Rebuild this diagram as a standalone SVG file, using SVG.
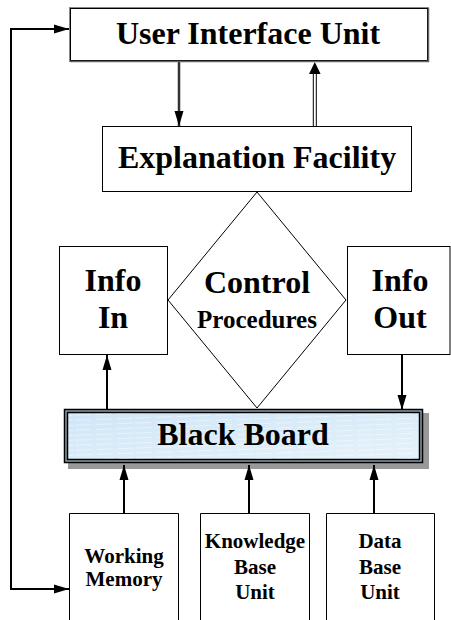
<svg xmlns="http://www.w3.org/2000/svg" width="451" height="620" viewBox="0 0 451 620">
<defs>
<style>
.t{font-family:"Liberation Serif","Times New Roman",serif;font-weight:bold;fill:#000;text-anchor:middle}
.box{fill:#fff;stroke:#000;stroke-width:1}
.c{fill:none;stroke:#000;stroke-width:2}
</style>
<marker id="ah" markerUnits="userSpaceOnUse" markerWidth="16" markerHeight="10" refX="15" refY="5" orient="auto">
<path d="M0,0.5 L15,5 L0,9.5 z" fill="#000"/>
</marker>
<linearGradient id="bg" x1="0" y1="0" x2="1" y2="1">
<stop offset="0" stop-color="#cfe6f7"/>
<stop offset="1" stop-color="#e6f2fa"/>
</linearGradient>
<pattern id="hatch" patternUnits="userSpaceOnUse" width="60" height="5" patternTransform="rotate(-2)">
<line x1="0" y1="2.5" x2="60" y2="2.5" stroke="#ffffff" stroke-width="0.7" stroke-dasharray="16,5" opacity="0.6"/>
</pattern>
</defs>

<g id="connectors">
<path class="c" d="M11,300 V29 H69" marker-end="url(#ah)"/>
<path class="c" d="M11,300 V589 H69" marker-end="url(#ah)"/>
<line x1="179" y1="62" x2="179" y2="126" stroke="#333" stroke-width="2.5" marker-end="url(#ah)"/>
<line x1="313.3" y1="126" x2="313.3" y2="73" stroke="#000" stroke-width="1"/>
<line x1="316.3" y1="126" x2="316.3" y2="73" stroke="#000" stroke-width="1"/>
<polygon points="309,74 320.6,74 314.8,62" fill="#000"/>
<line class="c" x1="107" y1="410" x2="107" y2="355" marker-end="url(#ah)"/>
<line class="c" x1="402" y1="355" x2="402" y2="410" marker-end="url(#ah)"/>
</g>

<g id="ui">
<rect x="69.5" y="7.5" width="359" height="54" fill="#fff" stroke="#888" stroke-width="1"/>
<rect x="70.5" y="8.5" width="357" height="52" fill="none" stroke="#000" stroke-width="1"/>
<line x1="70" y1="61.5" x2="429" y2="61.5" stroke="#666" stroke-width="1.5"/>
<line x1="428.5" y1="8" x2="428.5" y2="62" stroke="#666" stroke-width="1.5"/>
<text class="t" x="248" y="44" font-size="32">User Interface Unit</text>
</g>

<g id="explanation">
<rect class="box" x="102.5" y="126.5" width="309" height="65"/>
<text class="t" x="257" y="168" font-size="32">Explanation Facility</text>
</g>

<g id="info-in">
<rect class="box" x="59.5" y="246.5" width="108" height="108"/>
<text class="t" x="113" y="291" font-size="32">Info</text>
<text class="t" x="113" y="328" font-size="32">In</text>
</g>

<g id="control">
<polygon points="257,192 346,300 257,408 168,300" fill="#fff" stroke="#000" stroke-width="1"/>
<text class="t" x="257" y="293" font-size="32">Control</text>
<text class="t" x="257" y="328" font-size="25">Procedures</text>
</g>

<g id="info-out">
<rect class="box" x="347.5" y="246.5" width="102.5" height="108"/>
<text class="t" x="400" y="291" font-size="32">Info</text>
<text class="t" x="400" y="328" font-size="32">Out</text>
</g>

<g id="blackboard">
<rect x="68" y="413" width="361" height="56" fill="#999"/>
<rect x="64.5" y="409.5" width="358" height="53" fill="#8d9ca6" stroke="#000" stroke-width="1.5"/>
<rect x="67.5" y="412.5" width="352" height="47" fill="url(#bg)" stroke="#000" stroke-width="1.5"/>
<rect x="68.5" y="413.5" width="350" height="45" fill="url(#hatch)"/>
<text class="t" x="243" y="445" font-size="32">Black Board</text>
</g>

<g id="connectors-bottom">
<line class="c" x1="124" y1="513" x2="124" y2="465" marker-end="url(#ah)"/>
<line class="c" x1="249" y1="513" x2="249" y2="465" marker-end="url(#ah)"/>
<line class="c" x1="374" y1="513" x2="374" y2="465" marker-end="url(#ah)"/>
</g>

<g id="working-memory">
<path d="M69.5,621 V513.5 H178.5 V621" fill="#fff" stroke="#000" stroke-width="1"/>
<text class="t" x="124" y="563" font-size="21">Working</text>
<text class="t" x="124" y="586" font-size="21">Memory</text>
</g>

<g id="knowledge-base">
<path d="M200.5,621 V513.5 H309.5 V621" fill="#fff" stroke="#000" stroke-width="1"/>
<text class="t" x="255" y="548" font-size="21">Knowledge</text>
<text class="t" x="255" y="574" font-size="21">Base</text>
<text class="t" x="255" y="599" font-size="21">Unit</text>
</g>

<g id="data-base">
<path d="M326.5,621 V513.5 H434.5 V621" fill="#fff" stroke="#000" stroke-width="1"/>
<text class="t" x="380" y="548" font-size="21">Data</text>
<text class="t" x="380" y="574" font-size="21">Base</text>
<text class="t" x="380" y="599" font-size="21">Unit</text>
</g>
</svg>
